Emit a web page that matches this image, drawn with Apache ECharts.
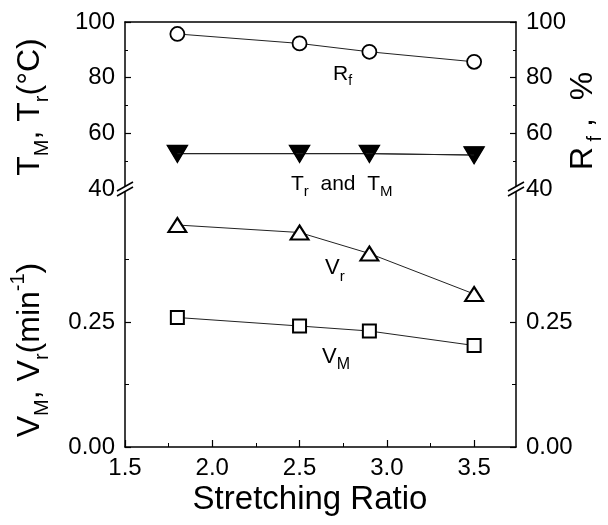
<!DOCTYPE html>
<html><head><meta charset="utf-8">
<script src="https://cdn.jsdelivr.net/npm/echarts@6/dist/echarts.min.js"></script>
<style>html,body{margin:0;padding:0;background:#fff}#c{width:608px;height:525px}</style>
</head><body><div id="c"></div>
<script>
const xVals = [1.8, 2.5, 2.9, 3.5];
const rfVals = [95.7, 92.3, 89.3, 85.7];
const trVals = [52.7, 52.7, 52.7, 52.2];
const tmVals = [52.7, 52.7, 52.7, 52.2];
const vrVals = [0.444, 0.429, 0.387, 0.306];
const vmVals = [0.259, 0.242, 0.232, 0.203];
const xMajorTicks = [1.5, 2.0, 2.5, 3.0, 3.5];
const xMinorTicks = [1.75, 2.25, 2.75, 3.25];
const vMajorTicks = [0, 0.25];
const vMinorTicks = [0.125, 0.375];

const FF = "'Liberation Sans', Arial, sans-serif";
const pairs = (ys) => xVals.map((x, i) => [x, ys[i]]);

const chart = echarts.init(document.getElementById('c'), null, {renderer: 'canvas'});

const axLine = {show: true, lineStyle: {color: '#000', width: 1.5}};
const lbl = {color: '#000', fontFamily: FF, fontSize: 24};

function topY(pos) {
  return {
    type: 'value', gridIndex: 0, position: pos, min: 40, max: 100, interval: 20,
    axisLine: axLine, splitLine: {show: false},
    axisTick: {show: true, inside: true, length: 6, lineStyle: {color: '#000', width: 1.2}},
    minorTick: {show: true, splitNumber: 2, length: 3, lineStyle: {color: '#000', width: 1}},
    axisLabel: Object.assign({margin: 10, showMinLabel: true}, lbl)
  };
}
function botY(pos) {
  return [{
    type: 'value', gridIndex: 1, position: pos, min: 0, max: 0.516, interval: 0.125,
    axisLine: axLine, splitLine: {show: false},
    axisTick: {show: true, inside: true, length: 6, customValues: vMajorTicks, lineStyle: {color: '#000', width: 1.2}},
    axisLabel: Object.assign({margin: 10, customValues: vMajorTicks, formatter: v => v.toFixed(2)}, lbl)
  }, {
    type: 'value', gridIndex: 1, position: pos, min: 0, max: 0.516, interval: 0.125,
    axisLine: {show: false}, splitLine: {show: false},
    axisTick: {show: true, inside: true, length: 4, customValues: vMinorTicks, lineStyle: {color: '#000', width: 1}},
    axisLabel: {show: false}
  }];
}

const sub = (fs) => ({fontSize: fs, fontFamily: FF, color: '#000', verticalAlign: 'bottom', padding: [0, 0, -Math.round(fs * 0.3), 0]});

const option = {
  animation: false,
  backgroundColor: '#fff',
  grid: [
    {left: 125, right: 92, top: 22, height: 167},
    {left: 125, right: 92, top: 189, height: 258}
  ],
  xAxis: [
    {type: 'value', gridIndex: 0, position: 'top', min: 1.5, max: 3.74,
     axisLine: axLine, axisTick: {show: false}, axisLabel: {show: false}, splitLine: {show: false}},
    {type: 'value', gridIndex: 1, position: 'bottom', min: 1.5, max: 3.74, interval: 0.25,
     axisLine: axLine, splitLine: {show: false},
     axisTick: {show: true, inside: true, length: 7, customValues: xMajorTicks, lineStyle: {color: '#000', width: 1.2}},
     axisLabel: Object.assign({margin: 9, customValues: xMajorTicks, formatter: v => v.toFixed(1)}, lbl)},
    {type: 'value', gridIndex: 1, position: 'bottom', min: 1.5, max: 3.74, interval: 0.25,
     axisLine: {show: false}, splitLine: {show: false},
     axisTick: {show: true, inside: true, length: 4, customValues: xMinorTicks, lineStyle: {color: '#000', width: 1}},
     axisLabel: {show: false}}
  ],
  yAxis: [topY('left'), topY('right')].concat(botY('left'), botY('right')),
  series: [
    {name: 'Rf', type: 'line', xAxisIndex: 0, yAxisIndex: 1, data: pairs(rfVals),
     symbol: 'circle', symbolSize: 14, lineStyle: {color: '#222', width: 1},
     itemStyle: {color: '#fff', borderColor: '#000', borderWidth: 1.8}, z: 3},
    {name: 'TM', type: 'line', xAxisIndex: 0, yAxisIndex: 0, data: pairs(tmVals),
     symbol: 'triangle', symbolRotate: 180, symbolSize: [19, 16], lineStyle: {color: '#222', width: 1},
     itemStyle: {color: '#000', borderColor: '#000', borderWidth: 1}, z: 3},
    {name: 'Tr', type: 'line', xAxisIndex: 0, yAxisIndex: 0, data: pairs(trVals),
     symbol: 'triangle', symbolRotate: 180, symbolSize: [19, 16], lineStyle: {color: '#222', width: 1},
     itemStyle: {color: 'transparent', borderColor: '#000', borderWidth: 2}, z: 4},
    {name: 'Vr', type: 'line', xAxisIndex: 1, yAxisIndex: 2, data: pairs(vrVals),
     symbol: 'triangle', symbolSize: [18, 14], lineStyle: {color: '#222', width: 1},
     itemStyle: {color: '#fff', borderColor: '#000', borderWidth: 2}, z: 3},
    {name: 'VM', type: 'line', xAxisIndex: 1, yAxisIndex: 2, data: pairs(vmVals),
     symbol: 'rect', symbolSize: 13, lineStyle: {color: '#222', width: 1},
     itemStyle: {color: '#fff', borderColor: '#000', borderWidth: 2}, z: 3}
  ],
  graphic: [
    // axis break marks
    {type: 'rect', shape: {x: 118, y: 186, width: 14, height: 5}, style: {fill: '#fff'}, z: 100},
    {type: 'line', shape: {x1: 117, y1: 191, x2: 133, y2: 182}, style: {stroke: '#000', lineWidth: 1.5}, z: 101},
    {type: 'line', shape: {x1: 117, y1: 196, x2: 133, y2: 187}, style: {stroke: '#000', lineWidth: 1.5}, z: 101},
    {type: 'rect', shape: {x: 509, y: 186, width: 14, height: 5}, style: {fill: '#fff'}, z: 100},
    {type: 'line', shape: {x1: 508, y1: 191, x2: 524, y2: 182}, style: {stroke: '#000', lineWidth: 1.5}, z: 101},
    {type: 'line', shape: {x1: 508, y1: 196, x2: 524, y2: 187}, style: {stroke: '#000', lineWidth: 1.5}, z: 101},
    // series labels
    {type: 'text', x: 333, y: 74, z: 50, style: {text: '{m|R}{s|f}', textVerticalAlign: 'middle',
      rich: {m: {fontSize: 21, fontFamily: FF, color: '#000'}, s: sub(14)}}},
    {type: 'text', x: 291, y: 184, z: 50, style: {text: '{m|T}{s|r}{m|  and  T}{s|M}', textVerticalAlign: 'middle',
      rich: {m: {fontSize: 21, fontFamily: FF, color: '#000'}, s: sub(15)}}},
    {type: 'text', x: 325, y: 268, z: 50, style: {text: '{m|V}{s|r}', textVerticalAlign: 'middle',
      rich: {m: {fontSize: 22, fontFamily: FF, color: '#000'}, s: sub(15)}}},
    {type: 'text', x: 322, y: 357, z: 50, style: {text: '{m|V}{s|M}', textVerticalAlign: 'middle',
      rich: {m: {fontSize: 22, fontFamily: FF, color: '#000'}, s: sub(16)}}},
    // axis titles
    {type: 'text', x: 30, y: 107, rotation: Math.PI / 2, z: 50, style: {text: '{m|T}{s|M}{m|, T}{s|r}{m|(°C)}',
      textAlign: 'center', textVerticalAlign: 'middle',
      rich: {m: {fontSize: 32, fontFamily: FF, color: '#000'}, s: sub(20)}}},
    {type: 'text', x: 30, y: 350, rotation: Math.PI / 2, z: 50, style: {text: '{m|V}{s|M}{m|, V}{s|r}{m|(min}{p|-1}{m|)}',
      textAlign: 'center', textVerticalAlign: 'middle',
      rich: {m: {fontSize: 32, fontFamily: FF, color: '#000'}, s: sub(20),
             p: {fontSize: 20, fontFamily: FF, color: '#000', verticalAlign: 'top', padding: [-6, 0, 0, 0]}}}},
    {type: 'text', x: 583, y: 121, rotation: Math.PI / 2, z: 50, style: {text: '{m|R}{s| f}{m| ,  %}',
      textAlign: 'center', textVerticalAlign: 'middle',
      rich: {m: {fontSize: 32, fontFamily: FF, color: '#000'}, s: sub(20)}}},
    {type: 'text', x: 310, y: 500, z: 50, style: {text: 'Stretching Ratio', textAlign: 'center', textVerticalAlign: 'middle',
      fontSize: 33, fontFamily: FF, fill: '#000'}}
  ]
};
chart.setOption(option);
</script></body></html>
